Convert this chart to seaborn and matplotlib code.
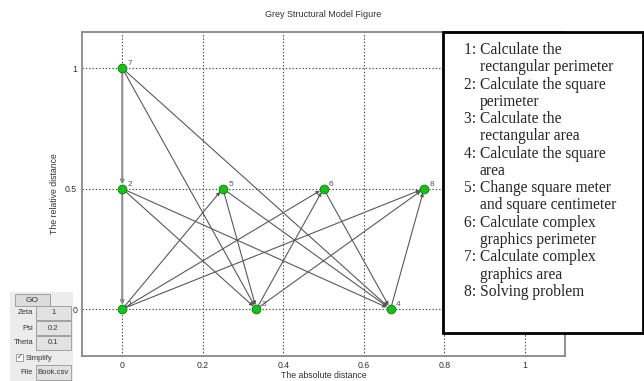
import matplotlib
matplotlib.use("Agg")
import matplotlib.pyplot as plt
import seaborn as sns
import pandas as pd
from matplotlib.patches import Rectangle

# nodes of the grey structural model
node_ids = [1, 2, 3, 4, 5, 6, 7, 8]
node_x = [0.0, 0.0, 1 / 3, 2 / 3, 0.25, 0.5, 0.0, 0.75]
node_y = [0.0, 0.5, 0.0, 0.0, 0.5, 0.5, 1.0, 0.5]

# directed edges (from, to)
edge_from = [7, 2, 7, 7, 2, 2, 5, 5, 6, 3, 3, 4, 1, 1, 1]
edge_to = [2, 1, 3, 4, 3, 4, 3, 4, 4, 6, 8, 8, 5, 6, 8]

x_ticks = [0, 0.2, 0.4, 0.6, 0.8, 1]
x_ticklabels = ["0", "0.2", "0.4", "0.6", "0.8", "1"]
y_ticks = [0, 0.5, 1]
y_ticklabels = ["0", "0.5", "1"]

step_lines = [
    ["Calculate the", "rectangular perimeter"],
    ["Calculate the square", "perimeter"],
    ["Calculate the", "rectangular area"],
    ["Calculate the square", "area"],
    ["Change square meter", "and square centimeter"],
    ["Calculate complex", "graphics perimeter"],
    ["Calculate complex", "graphics area"],
    ["Solving problem"],
]

param_names = ["Zeta", "Psi", "Theta"]
param_values = ["1", "0.2", "0.1"]
file_name = "Book.csv"

W, H = 644, 381


def fx(px):
    return px / W


def fy(py):
    return 1 - py / H


sns.set_style("white")
plt.rcParams["font.family"] = ["Liberation Sans", "DejaVu Sans"]

fig = plt.figure(figsize=(6.44, 3.81), dpi=100)
ax = fig.add_axes([fx(82), fy(356), fx(565) - fx(82), fy(32) - fy(356)])

nodes = pd.DataFrame({"id": node_ids, "x": node_x, "y": node_y})
pos = {r.id: (r.x, r.y) for r in nodes.itertuples()}

# edges
for a, b in zip(edge_from, edge_to):
    vertical = pos[a][0] == pos[b][0]
    ax.annotate("", xy=pos[b], xytext=pos[a],
                arrowprops=dict(arrowstyle="-|>", color="#8a8a8a" if vertical else "#5a5a5a",
                                lw=1.4 if vertical else 0.8,
                                mutation_scale=5, shrinkA=0, shrinkB=3),
                zorder=2)

sns.scatterplot(data=nodes, x="x", y="y", ax=ax, s=40, color="#18c018",
                edgecolor="#0a7a0a", linewidth=0.6, zorder=3, legend=False)

for r in nodes.itertuples():
    ax.annotate(str(r.id), (r.x, r.y), xytext=(4, 2), textcoords="offset points",
                fontsize=6, color="#555555", zorder=4)

ax.set_xlim(-0.1, 1.1)
ax.set_ylim(-0.195, 1.15)
ax.set_xticks(x_ticks)
ax.set_xticklabels(x_ticklabels)
ax.set_yticks(y_ticks)
ax.set_yticklabels(y_ticklabels)
ax.tick_params(labelsize=6.3, colors="#333333", length=2, direction="in")
ax.grid(True, linestyle=(0, (1.2, 1.8)), color="#444444", linewidth=0.8)
for sp in ax.spines.values():
    sp.set_color("#888888")
    sp.set_linewidth(1.3)

ax.set_xlabel("The absolute distance", fontsize=6.3, color="#333333", labelpad=1)
ax.set_ylabel("The relative distance", fontsize=6.3, color="#333333", labelpad=4)
ax.set_title("Grey Structural Model Figure", fontsize=6.5, color="#333333", pad=11)

# legend box on the right
fig.add_artist(Rectangle((fx(443), fy(333)), fx(643) - fx(443), fy(32) - fy(333),
                         transform=fig.transFigure, facecolor="white",
                         edgecolor="black", linewidth=2, zorder=5))
line_y = 50
for i, lines in enumerate(step_lines):
    for j, txt in enumerate(lines):
        if j == 0:
            fig.text(fx(464), fy(line_y), f"{i + 1}: {txt}", fontsize=11.2,
                     family="Liberation Serif", va="center", ha="left", zorder=6)
        else:
            fig.text(fx(480), fy(line_y), txt, fontsize=11.2,
                     family="Liberation Serif", va="center", ha="left", zorder=6)
        line_y += 17.27

# small control panel on the lower left
fig.add_artist(Rectangle((fx(10), fy(381)), fx(63), fy(292) - fy(381),
                         transform=fig.transFigure, facecolor="#ececec",
                         edgecolor="none", zorder=1))


def box(x0, y0, x1, y1, face="#e2e2e2"):
    fig.add_artist(Rectangle((fx(x0), fy(y1)), fx(x1 - x0), fy(y0) - fy(y1),
                             transform=fig.transFigure, facecolor=face,
                             edgecolor="#a0a0a0", linewidth=0.7, zorder=2))


box(15, 294, 50, 306, face="#dcdcdc")
fig.text(fx(32.5), fy(300), "GO", fontsize=6, ha="center", va="center", color="#333333")
for k, (name, val) in enumerate(zip(param_names, param_values)):
    cy = 313 + 15 * k
    box(36, cy - 7, 71, cy + 7)
    fig.text(fx(33), fy(cy), name, fontsize=5.5, ha="right", va="center", color="#333333")
    fig.text(fx(53.5), fy(cy), val, fontsize=5.5, ha="center", va="center", color="#333333")
box(16, 354, 23, 361, face="white")
fig.text(fx(19.5), fy(357.5), "✓", fontsize=5, ha="center", va="center", color="#2040a0",
         family=["DejaVu Sans"])
fig.text(fx(26), fy(358), "Simplify", fontsize=5.5, ha="left", va="center", color="#333333")
box(36, 365, 71, 380)
fig.text(fx(33), fy(372), "File", fontsize=5.5, ha="right", va="center", color="#333333")
fig.text(fx(53.5), fy(372), file_name, fontsize=5.5, ha="center", va="center", color="#333333")

fig.savefig("out.png", dpi=100)
